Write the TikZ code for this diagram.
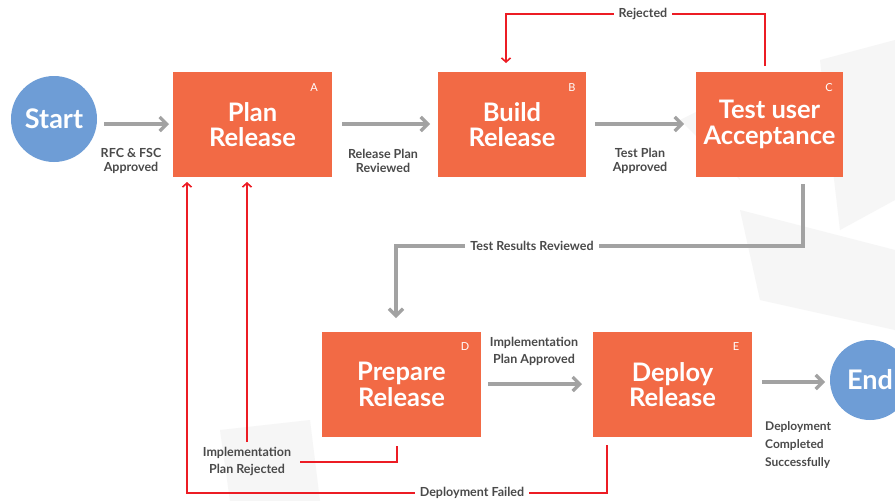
\documentclass[tikz,border=0pt]{standalone}
\usepackage{fontspec}
\setmainfont{Lato}
\usetikzlibrary{arrows.meta}
\definecolor{boxor}{HTML}{F26A45}
\definecolor{circblue}{HTML}{6E9DD6}
\definecolor{flowgray}{HTML}{A2A2A2}
\definecolor{labgray}{HTML}{4A4A4A}
\definecolor{rejred}{HTML}{EC1C24}
\definecolor{bgpoly}{HTML}{F6F6F6}
\begin{document}
\begin{tikzpicture}[x=1pt,y=-1pt,
  stepbox/.style={fill=boxor,draw=none,text=white,font=\bfseries\fontsize{25.5}{25.5}\selectfont,align=center,inner sep=0pt},
  endpt/.style={circle,fill=circblue,draw=none,text=white,font=\bfseries\fontsize{27}{27}\selectfont,inner sep=0pt},
  letter/.style={text=white,font=\fontsize{11}{12}\selectfont,inner sep=0pt},
  flow/.style={draw=flowgray,line width=4pt,-{Straight Barb[length=7pt,width=14pt,line width=3.2pt]}},
  flowline/.style={draw=flowgray,line width=4pt},
  rej/.style={draw=rejred,line width=1.8pt,-{Straight Barb[length=4pt,width=9pt,line width=1.6pt]}},
  rejline/.style={draw=rejred,line width=1.8pt},
  lab/.style={text=labgray,font=\bfseries\fontsize{12.5}{14.5}\selectfont,align=center,inner sep=1pt},
  labfill/.style={lab,fill=white,inner xsep=5pt}
]
\useasboundingbox (0,0) rectangle (895,501);
\fill[white] (0,0) rectangle (895,501);
% faint background facets
\fill[bgpoly] (820,60) -- (895,40) -- (895,200) -- (840,230) -- cycle;
\fill[bgpoly] (740,210) -- (895,250) -- (895,330) -- (760,300) -- cycle;
\fill[bgpoly] (220,430) -- (310,420) -- (320,501) -- (230,501) -- cycle;
\fill[bgpoly] (680,120) -- (720,100) -- (740,180) -- cycle;

% nodes
\node[endpt,minimum size=86pt] (start) at (54,119) {Start};
\node[endpt,minimum size=80pt] (end) at (870,380) {End};
\node[stepbox,minimum width=159pt,minimum height=105pt] (A) at (252.5,124.5) {Plan\\Release};
\node[stepbox,minimum width=148pt,minimum height=105pt] (B) at (512,124.5) {Build\\Release};
\node[stepbox,minimum width=147pt,minimum height=105pt] (C) at (769.5,124.5) {Test user\\Acceptance};
\node[stepbox,minimum width=159pt,minimum height=105pt] (D) at (401.5,384.5) {Prepare\\Release};
\node[stepbox,minimum width=159pt,minimum height=105pt] (E) at (672.5,384.5) {Deploy\\Release};
\node[letter] (la) at (314,88) {A};
\node[letter] (lb) at (572,88) {B};
\node[letter] (lc) at (829,88) {C};
\node[letter] (ld) at (465,347) {D};
\node[letter] (le) at (736,347) {E};

% coordinates
\coordinate (s1) at (104,124);
\coordinate (s2) at (169,124);
\coordinate (a1) at (342,124);
\coordinate (a2) at (430,124);
\coordinate (b1) at (595,124);
\coordinate (b2) at (684,124);
\coordinate (d1) at (488,384);
\coordinate (d2) at (582,384);
\coordinate (e1) at (762,382);
\coordinate (e2) at (825,382);
\coordinate (c1) at (803,184);
\coordinate (c2) at (803,246);
\coordinate (c3) at (396,246);
\coordinate (c4) at (396,318);
\coordinate (r1) at (765,66);
\coordinate (r2) at (765,14);
\coordinate (r3) at (506,14);
\coordinate (r4) at (506,63);
\coordinate (p1) at (397,446);
\coordinate (p2) at (397,462);
\coordinate (p3) at (300,462);
\coordinate (p4) at (247,442);
\coordinate (p5) at (247,182);
\coordinate (f1) at (607,445);
\coordinate (f2) at (607,493);
\coordinate (f3) at (187,493);
\coordinate (f4) at (187,182);

% gray flows
\draw[flow] (s1) -- (s2);
\draw[flow] (a1) -- (a2);
\draw[flow] (b1) -- (b2);
\draw[flow] (d1) -- (d2);
\draw[flow] (e1) -- (e2);
\draw[flow] (c1) -- (c2) -- (c3) -- (c4);
\node[labfill] (trr) at (532,246) {Test Results Reviewed};

% red rejections
\draw[rej] (r1) -- (r2) -- (r3) -- (r4);
\node[labfill] (rj) at (643,14) {Rejected};
\draw[rejline] (p1) -- (p2) -- (p3);
\draw[rej] (p4) -- (p5);
\draw[rej] (f1) -- (f2) -- (f3) -- (f4);
\node[labfill] (df) at (472,493) {Deployment Failed};

% labels
\node[lab] (l1) at (131,161) {RFC \& FSC\\Approved};
\node[lab] (l2) at (383,161) {Release Plan\\Reviewed};
\node[lab] (l3) at (640,161) {Test Plan\\Approved};
\node[lab,font=\bfseries\fontsize{12.5}{17}\selectfont] (l4) at (534,351) {Implementation\\Plan Approved};
\node[lab,font=\bfseries\fontsize{12.5}{17}\selectfont] (l5) at (247,461) {Implementation\\Plan Rejected};
\node[lab,align=left,anchor=west,font=\bfseries\fontsize{12}{18}\selectfont] (l6) at (764,445) {Deployment\\Completed\\Successfully};
\end{tikzpicture}
\end{document}
